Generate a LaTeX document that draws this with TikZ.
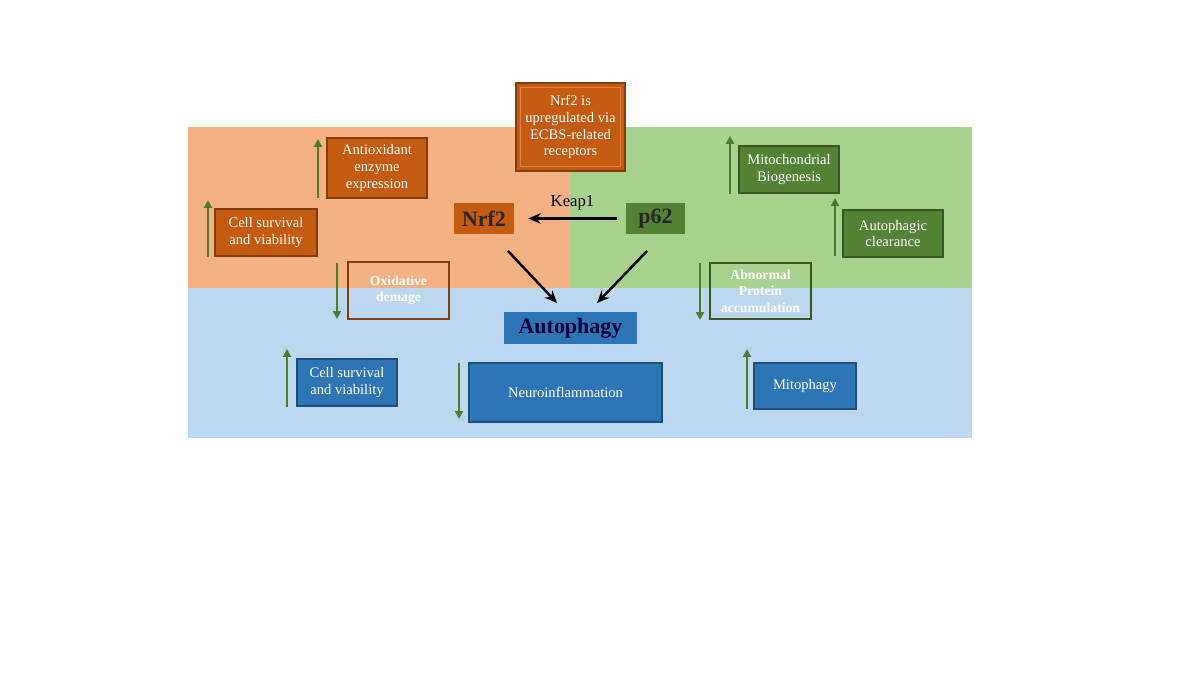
\documentclass[tikz,border=0pt]{standalone}
\usepackage{fontspec}
\setmainfont{Liberation Serif}
\usetikzlibrary{arrows.meta}
\definecolor{bgor}{RGB}{244,177,131}
\definecolor{bggr}{RGB}{169,209,142}
\definecolor{bgbl}{RGB}{189,215,238}
\definecolor{boxor}{RGB}{197,90,17}
\definecolor{edgeor}{RGB}{132,60,12}
\definecolor{bevelor}{RGB}{224,130,70}
\definecolor{boxgr}{RGB}{84,130,53}
\definecolor{edgegr}{RGB}{56,87,35}
\definecolor{boxbl}{RGB}{46,117,182}
\definecolor{edgebl}{RGB}{31,78,121}
\definecolor{arrgr}{RGB}{78,122,46}
\tikzset{
  x=0.02cm, y=-0.02cm,
  base/.style={rectangle, align=center, inner sep=1pt, text=white,
    font=\fontsize{8.3}{9.6}\selectfont, line width=1.2pt},
  obox/.style={base, fill=boxor, draw=edgeor},
  gbox/.style={base, fill=boxgr, draw=edgegr},
  bbox/.style={base, fill=boxbl, draw=edgebl},
  ooutline/.style={base, draw=edgeor, font=\bfseries\fontsize{7.8}{9.4}\selectfont},
  goutline/.style={base, draw=edgegr, font=\bfseries\fontsize{7.8}{9.4}\selectfont},
  keynode/.style={rectangle, align=center, font=\bfseries\fontsize{12.5}{14}\selectfont, text=black!85},
  updown/.style={draw=arrgr, line width=1.3pt, -{Triangle[length=4.5pt,width=4.5pt]}},
  mainarr/.style={draw=black, line width=1.4pt, -{Stealth[length=7pt,width=6pt]}}
}
\begin{document}
\begin{tikzpicture}
\useasboundingbox (0,0) rectangle (1200,675);
\fill[white] (0,0) rectangle (1200,675);
% background regions
\fill[bgor] (188,127) rectangle (570,288);
\fill[bggr] (570,127) rectangle (972,288);
\fill[bgbl] (188,288) rectangle (972,438);

% nodes
\node[obox, minimum width=2.18cm, minimum height=1.76cm] (ecbs) at (570.5,127) {Nrf2 is\\upregulated via\\ECBS-related\\receptors};
\draw[bevelor, line width=0.6pt] ([xshift=0.12cm,yshift=-0.12cm]ecbs.north west) rectangle ([xshift=-0.12cm,yshift=0.12cm]ecbs.south east);
\node[obox, minimum width=2.0cm, minimum height=1.2cm] (antiox) at (377,168) {Antioxidant\\enzyme\\expression};
\node[obox, minimum width=2.04cm, minimum height=0.94cm] (cello) at (266,232.5) {Cell survival\\and viability};
\node[ooutline, minimum width=2.02cm, minimum height=1.14cm] (oxid) at (398.5,290.5) {Oxidative\\demage};
\node[bbox, minimum width=2.0cm, minimum height=0.94cm] (cellb) at (347,382.5) {Cell survival\\and viability};
\node[bbox, minimum width=3.86cm, minimum height=1.18cm] (neuro) at (565.5,392.5) {Neuroinflammation};
\node[keynode, fill=boxbl, minimum width=2.66cm, minimum height=0.64cm, text=black!80!blue] (auto) at (570.5,328) {Autophagy};
\node[keynode, fill=boxor, minimum width=1.2cm, minimum height=0.62cm] (nrf) at (484,218.5) {Nrf2};
\node[keynode, fill=boxgr, minimum width=1.18cm, minimum height=0.62cm] (p62) at (655.5,218.5) {p62};
\node[gbox, minimum width=2.0cm, minimum height=0.94cm] (mito) at (789,169.5) {Mitochondrial\\Biogenesis};
\node[gbox, minimum width=2.0cm, minimum height=0.94cm] (aclear) at (893,233.5) {Autophagic\\clearance};
\node[goutline, minimum width=2.02cm, minimum height=1.12cm] (abn) at (760.5,291) {Abnormal\\Protein\\accumulation};
\node[bbox, minimum width=2.04cm, minimum height=0.92cm] (mitoph) at (805,386) {Mitophagy};

% Keap1 arrow
\draw[mainarr] ([xshift=-0.18cm]p62.west) -- node[above=1pt, font=\fontsize{9.5}{11}\selectfont, text=black] (keap) {Keap1} ([xshift=0.28cm]nrf.east);
% arrows to autophagy
\coordinate (nrfout) at (508,251);
\coordinate (p62out) at (647,251);
\coordinate (autoin1) at (557,303);
\coordinate (autoin2) at (597,303);
\draw[mainarr] (nrfout) -- (autoin1);
\draw[mainarr] (p62out) -- (autoin2);

% up/down indicator arrows
\coordinate (a1s) at (318,198); \coordinate (a1e) at (318,139);
\coordinate (a2s) at (208,257); \coordinate (a2e) at (208,200);
\coordinate (a3s) at (337,263); \coordinate (a3e) at (337,319);
\coordinate (a4s) at (287,407); \coordinate (a4e) at (287,349);
\coordinate (a5s) at (459,363); \coordinate (a5e) at (459,419);
\coordinate (a6s) at (730,194); \coordinate (a6e) at (730,136);
\coordinate (a7s) at (835,256); \coordinate (a7e) at (835,198);
\coordinate (a8s) at (700,263); \coordinate (a8e) at (700,320);
\coordinate (a9s) at (747,409); \coordinate (a9e) at (747,349);
\foreach \i in {1,...,9} {\draw[updown] (a\i s) -- (a\i e);}
\end{tikzpicture}
\end{document}
